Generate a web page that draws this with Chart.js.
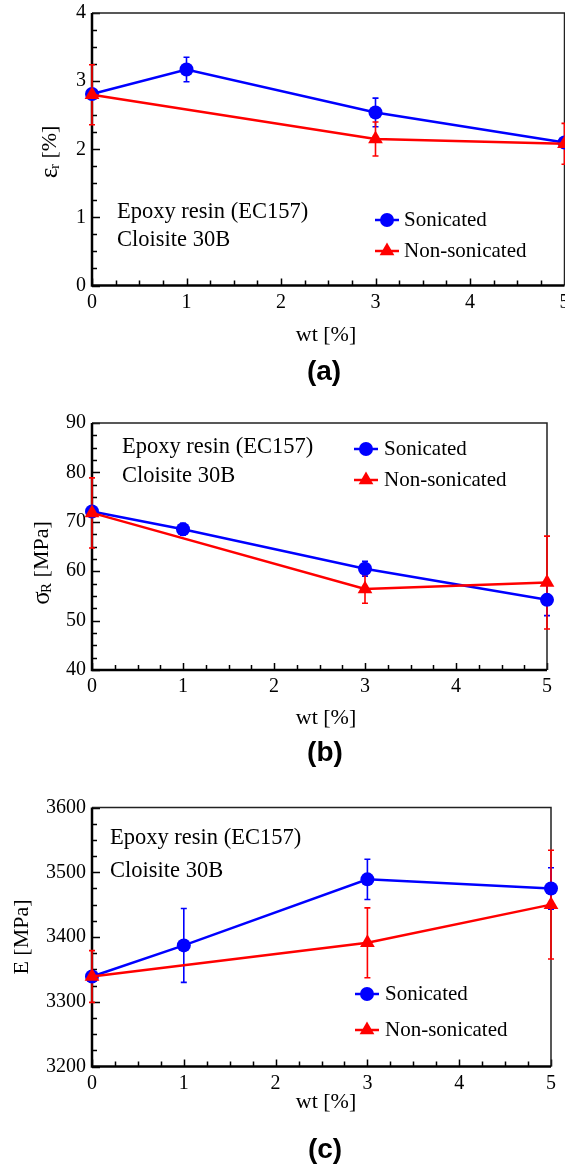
<!DOCTYPE html>
<html>
<head>
<meta charset="utf-8">
<title>Epoxy / Cloisite 30B</title>
<script src="https://cdn.jsdelivr.net/npm/chart.js@4.4.1/dist/chart.umd.min.js"></script>
<style>
    body { margin: 0; background: #fff; overflow: hidden; }
    .panel { position: absolute; left: 0; width: 565px; overflow: hidden; }
</style>
</head>
<body>
<!-- canvases are a bit wider than the page so panel (a) can run off the right edge like the original -->
<div class="panel" style="top:0px;height:390px"><canvas id="chartA" width="600" height="390"></canvas></div>
<div class="panel" style="top:390px;height:390px"><canvas id="chartB" width="600" height="390"></canvas></div>
<div class="panel" style="top:780px;height:388px"><canvas id="chartC" width="600" height="388"></canvas></div>
<script>
// x values (wt %) - non-sonicated has no sample at 1 %
const wtSonicated = [0, 1, 3, 5];
const wtNonSonicated = [0, 3, 5];
const wtTicks = [0, 1, 2, 3, 4, 5];

// (a) strain at break [%]
const strainSon = [2.81, 3.17, 2.54, 2.10];
const strainSonErr = [0.05, 0.18, 0.21, 0.05];
const strainNon = [2.80, 2.15, 2.08];
const strainNonErr = [0.44, 0.25, 0.30];
const strainTicks = [0, 1, 2, 3, 4];

// (b) tensile strength [MPa]
const strengthSon = [72.1, 68.5, 60.5, 54.2];
const strengthSonErr = [0.8, 1.2, 1.5, 3.2];
const strengthNon = [71.8, 56.4, 57.7];
const strengthNonErr = [7.1, 2.9, 9.4];
const strengthTicks = [40, 50, 60, 70, 80, 90];

// (c) modulus [MPa]
const modulusSon = [3339, 3387, 3489, 3475];
const modulusSonErr = [8, 57, 31, 32];
const modulusNon = [3339, 3391, 3450];
const modulusNonErr = [40, 54, 84];
const modulusTicks = [3200, 3300, 3400, 3500, 3600];

const seriesNames = ["Sonicated", "Non-sonicated"];
const noteLines = ["Epoxy resin (EC157)", "Cloisite 30B"];

const SERIF = "'Liberation Serif', 'Times New Roman', serif";
const BLUE = "#0000ff";
const RED = "#ff0000";

function toPoints(xs, ys) {
    return xs.map((x, i) => ({ x: x, y: ys[i] }));
}

// frame + inward major/minor ticks, drawn under the data
const framePlugin = {
    id: "frame",
    beforeDatasetsDraw(chart) {
        const ctx = chart.ctx;
        const a = chart.chartArea;
        const xs = chart.scales.x;
        const ys = chart.scales.y;
        const xStep = chart.options.scales.x.ticks.stepSize;
        const yStep = chart.options.scales.y.ticks.stepSize;
        ctx.save();
        ctx.strokeStyle = "#000";
        ctx.lineWidth = 1.5;
        ctx.beginPath();
        for (let i = 0; i <= Math.round((xs.max - xs.min) / xStep * 4); i++) {
            const px = Math.round(xs.getPixelForValue(xs.min + i * xStep / 4)) + 0.5;
            const len = i % 4 === 0 ? 7 : 5;
            ctx.moveTo(px, a.bottom);
            ctx.lineTo(px, a.bottom - len);
        }
        for (let i = 0; i <= Math.round((ys.max - ys.min) / yStep * 4); i++) {
            const py = Math.round(ys.getPixelForValue(ys.min + i * yStep / 4)) + 0.5;
            const len = i % 4 === 0 ? 8 : 5;
            ctx.moveTo(a.left, py);
            ctx.lineTo(a.left + len, py);
        }
        ctx.stroke();

        // box
        ctx.lineWidth = 1.5;
        ctx.strokeStyle = "#222";
        ctx.beginPath();
        ctx.moveTo(a.left, a.top);
        ctx.lineTo(a.right, a.top);
        ctx.lineTo(a.right, a.bottom);
        ctx.stroke();
        ctx.lineWidth = 2.5;
        ctx.strokeStyle = "#000";
        ctx.beginPath();
        ctx.moveTo(a.left, a.top);
        ctx.lineTo(a.left, a.bottom);
        ctx.lineTo(a.right, a.bottom);
        ctx.stroke();
        ctx.restore();
    }
};

// vertical error bars with small caps
const errorBarPlugin = {
    id: "errorBars",
    beforeDatasetsDraw(chart) {
        const ctx = chart.ctx;
        const xs = chart.scales.x;
        const ys = chart.scales.y;
        ctx.save();
        chart.data.datasets.forEach((ds) => {
            if (!ds.errors) return;
            ctx.strokeStyle = ds.borderColor;
            ctx.lineWidth = 1.6;
            ds.data.forEach((p, i) => {
                const e = ds.errors[i];
                const px = xs.getPixelForValue(p.x);
                const top = ys.getPixelForValue(p.y + e);
                const bot = ys.getPixelForValue(p.y - e);
                ctx.beginPath();
                ctx.moveTo(px, top);
                ctx.lineTo(px, bot);
                ctx.moveTo(px - 3, top);
                ctx.lineTo(px + 3, top);
                ctx.moveTo(px - 3, bot);
                ctx.lineTo(px + 3, bot);
                ctx.stroke();
            });
        });
        ctx.restore();
    }
};

function drawMarker(ctx, style, x, y, r, color) {
    ctx.fillStyle = color;
    ctx.beginPath();
    if (style === "circle") {
        ctx.arc(x, y, r, 0, Math.PI * 2);
    } else {
        let rad = 0;
        ctx.moveTo(x + Math.sin(rad) * r, y - Math.cos(rad) * r);
        rad += Math.PI * 2 / 3;
        ctx.lineTo(x + Math.sin(rad) * r, y - Math.cos(rad) * r);
        rad += Math.PI * 2 / 3;
        ctx.lineTo(x + Math.sin(rad) * r, y - Math.cos(rad) * r);
        ctx.closePath();
    }
    ctx.fill();
}

// notes, legend, axis titles and panel tag
const textPlugin = {
    id: "texts",
    afterDraw(chart) {
        const ctx = chart.ctx;
        const t = chart.options.plugins.texts;
        ctx.save();
        ctx.fillStyle = "#000";
        ctx.textBaseline = "middle";

        ctx.font = "22.5px " + SERIF;
        ctx.textAlign = "left";
        noteLines.forEach((line, i) => ctx.fillText(line, t.note.x, t.note.y[i]));

        // legend inside the plot
        chart.data.datasets.forEach((ds, i) => {
            const y = t.legend.y[i];
            ctx.strokeStyle = ds.borderColor;
            ctx.lineWidth = 2.5;
            ctx.beginPath();
            ctx.moveTo(t.legend.x0, y);
            ctx.lineTo(t.legend.x1, y);
            ctx.stroke();
            drawMarker(ctx, ds.pointStyle, (t.legend.x0 + t.legend.x1) / 2, y, ds.pointRadius, ds.borderColor);
            ctx.fillStyle = "#000";
            ctx.font = "21px " + SERIF;
            ctx.fillText(ds.label, t.legend.tx, y);
        });

        // x title
        ctx.textAlign = "center";
        ctx.font = "22px " + SERIF;
        ctx.fillText("wt [%]", t.xTitle.x, t.xTitle.y);

        // tag
        ctx.font = "bold 28px 'Liberation Sans', Arial, sans-serif";
        ctx.fillText(t.tag.text, t.tag.x, t.tag.y);

        // rotated y title with optional subscript
        ctx.translate(t.yTitle.x, t.yTitle.y);
        ctx.rotate(-Math.PI / 2);
        ctx.textAlign = "left";
        const main = "22px " + SERIF;
        const small = "15px " + SERIF;
        ctx.font = main;
        const w1 = ctx.measureText(t.yTitle.sym).width;
        const w3 = ctx.measureText(t.yTitle.unit).width;
        ctx.font = small;
        const w2 = t.yTitle.sub ? ctx.measureText(t.yTitle.sub).width : 0;
        let x = -(w1 + w2 + w3) / 2;
        ctx.font = t.yTitle.symFont || main;
        ctx.fillText(t.yTitle.sym, x, 0);
        x += w1;
        if (t.yTitle.sub) {
            ctx.font = small;
            ctx.fillText(t.yTitle.sub, x, 5);
            x += w2;
        }
        ctx.font = main;
        ctx.fillText(t.yTitle.unit, x, 0);
        ctx.restore();
    }
};

function makePanel(id, p) {
    const canvas = document.getElementById(id);
    const W = canvas.width;
    const H = canvas.height;
    const yTicks = p.yTicks;
    return new Chart(canvas, {
        type: "line",
        data: {
            datasets: [
                {
                    label: seriesNames[0],
                    data: toPoints(wtSonicated, p.son),
                    errors: p.sonErr,
                    borderColor: BLUE,
                    backgroundColor: BLUE,
                    borderWidth: 2.5,
                    pointStyle: "circle",
                    pointRadius: 7,
                    pointBorderWidth: 0,
                    clip: false,
                    order: 2
                },
                {
                    label: seriesNames[1],
                    data: toPoints(wtNonSonicated, p.non),
                    errors: p.nonErr,
                    borderColor: RED,
                    backgroundColor: RED,
                    borderWidth: 2.5,
                    pointStyle: "triangle",
                    pointRadius: 8.5,
                    pointBorderWidth: 0,
                    clip: false,
                    order: 1
                }
            ]
        },
        options: {
            responsive: false,
            animation: false,
            layout: { padding: { left: 0, top: p.top, right: W - p.right, bottom: 0 } },
            plugins: {
                legend: { display: false },
                tooltip: { enabled: false },
                texts: p.texts
            },
            scales: {
                x: {
                    type: "linear",
                    min: wtTicks[0],
                    max: wtTicks[wtTicks.length - 1],
                    grid: { display: false, drawTicks: false },
                    border: { display: false },
                    ticks: {
                        stepSize: 1, padding: 5, color: "#000", maxRotation: 0,
                        font: { family: SERIF, size: 20 },
                        callback: (v) => String(v)
                    },
                    afterFit(scale) {
                        scale.height = H - p.bottom;
                        scale.paddingLeft = 0;
                        scale.paddingRight = 0;
                    }
                },
                y: {
                    min: yTicks[0],
                    max: yTicks[yTicks.length - 1],
                    grid: { display: false, drawTicks: false },
                    border: { display: false },
                    ticks: {
                        stepSize: yTicks[1] - yTicks[0], padding: 6, color: "#000",
                        font: { family: SERIF, size: 20 },
                        callback: (v) => String(v)
                    },
                    afterFit(scale) {
                        scale.width = 92;
                        scale.paddingTop = 0;
                        scale.paddingBottom = 0;
                    }
                }
            }
        },
        plugins: [framePlugin, errorBarPlugin, textPlugin]
    });
}

document.addEventListener("DOMContentLoaded", () => {
    makePanel("chartA", {
        son: strainSon, sonErr: strainSonErr, non: strainNon, nonErr: strainNonErr, yTicks: strainTicks,
        top: 13, bottom: 285.5, right: 564.5,
        texts: {
            note: { x: 117, y: [212, 240] },
            legend: { x0: 375, x1: 399, tx: 404, y: [220, 251] },
            xTitle: { x: 326, y: 335 },
            tag: { text: "(a)", x: 324, y: 372 },
            yTitle: { x: 50, y: 152, sym: "ε", sub: "r", unit: " [%]", symFont: "25px " + SERIF }
        }
    });
    makePanel("chartB", {
        son: strengthSon, sonErr: strengthSonErr, non: strengthNon, nonErr: strengthNonErr, yTicks: strengthTicks,
        top: 33, bottom: 280, right: 547,
        texts: {
            note: { x: 122, y: [57, 86] },
            legend: { x0: 354, x1: 378, tx: 384, y: [59, 90] },
            xTitle: { x: 326, y: 328 },
            tag: { text: "(b)", x: 325, y: 363 },
            yTitle: { x: 42, y: 173, sym: "σ", sub: "R", unit: " [MPa]", symFont: "25px " + SERIF }
        }
    });
    makePanel("chartC", {
        son: modulusSon, sonErr: modulusSonErr, non: modulusNon, nonErr: modulusNonErr, yTicks: modulusTicks,
        top: 27.5, bottom: 286.5, right: 551,
        texts: {
            note: { x: 110, y: [58, 91] },
            legend: { x0: 355, x1: 379, tx: 385, y: [214, 250] },
            xTitle: { x: 326, y: 322 },
            tag: { text: "(c)", x: 325, y: 370 },
            yTitle: { x: 22, y: 157, sym: "E", sub: "", unit: " [MPa]" }
        }
    });
});
</script>
</body>
</html>
